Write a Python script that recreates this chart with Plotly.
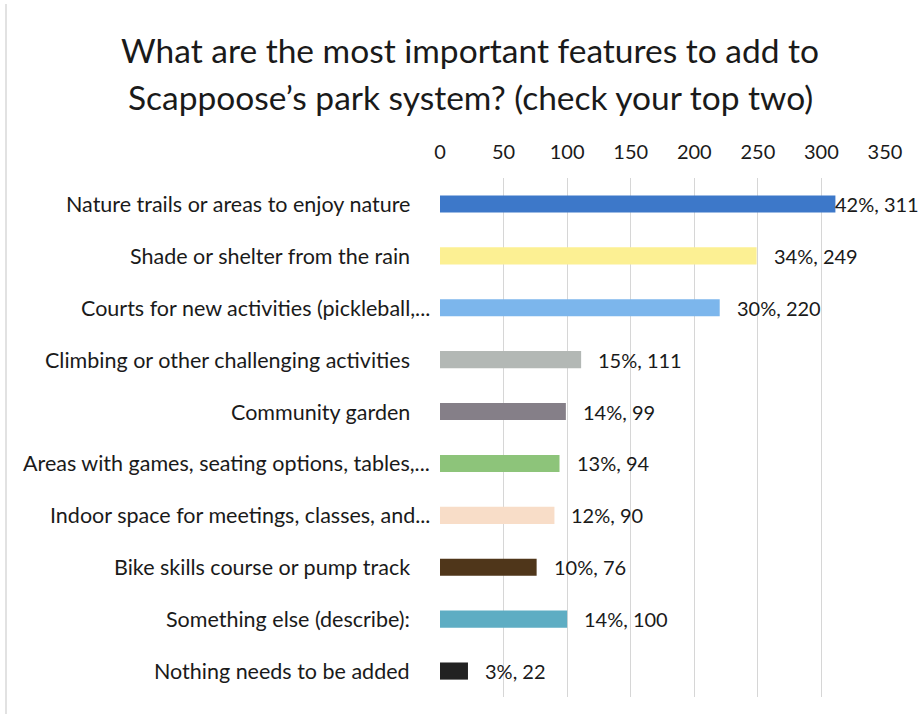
import plotly.graph_objects as go

# Survey responses: features to add to the park system
categories = [
    "Nature trails or areas to enjoy nature",
    "Shade or shelter from the rain",
    "Courts for new activities (pickleball,...",
    "Climbing or other challenging activities",
    "Community garden",
    "Areas with games, seating options, tables,...",
    "Indoor space for meetings, classes, and...",
    "Bike skills course or pump track",
    "Something else (describe):",
    "Nothing needs to be added",
]
counts = [311, 249, 220, 111, 99, 94, 90, 76, 100, 22]
percents = [42, 34, 30, 15, 14, 13, 12, 10, 14, 3]
bar_colors = [
    "#3d78c9", "#fcf093", "#7cb6ec", "#b3b8b5", "#857f88",
    "#8dc47a", "#f8ddc8", "#4f361a", "#5eadc3", "#222222",
]
x_ticks = [0, 50, 100, 150, 200, 250, 300, 350]
title_lines = [
    "What are the most important features to add to",
    "Scappoose\u2019s park system? (check your top two)",
]

FONT = "Lato"
TEXT = "#1a1a1a"

# plot-area geometry in pixels
W, H = 919, 723
L, R, T, B = 440, 34, 178, 26
PW, PH = W - L - R, H - T - B


def px_to_paper(xpix, ypix):
    return (xpix - L) / PW, (H - B - ypix) / PH


fig = go.Figure(
    go.Bar(
        x=counts,
        y=categories,
        orientation="h",
        width=0.33,
        marker=dict(color=bar_colors, line=dict(width=0)),
        hoverinfo="skip",
    )
)

annotations = []
# category labels to the left of the bars
for cat in categories:
    trailing = cat.endswith("...")
    annotations.append(dict(
        x=0, y=cat, xref="x", yref="y", text=cat, showarrow=False,
        xanchor="right", yanchor="middle", xshift=-8 if trailing else -28,
        font=dict(family=FONT, size=21.5, color=TEXT),
    ))
# value labels: "pct%, count" (the longest bar's label hugs its bar end)
for cat, v, p in zip(categories, counts, percents):
    annotations.append(dict(
        x=v, y=cat, xref="x", yref="y", text=f"{p}%, {v}", showarrow=False,
        xanchor="left", yanchor="middle", xshift=-2 if v > 300 else 15,
        font=dict(family=FONT, size=20, color=TEXT),
    ))
# two-line chart title
for line, ypix in zip(title_lines, [50, 97]):
    px, py = px_to_paper(470, ypix)
    annotations.append(dict(
        x=px, y=py, xref="paper", yref="paper",
        text=line, showarrow=False, xanchor="center", yanchor="middle",
        font=dict(family=FONT, size=33.5, color=TEXT),
    ))

bx0, by0 = px_to_paper(6, 714)
bx1, by1 = px_to_paper(6, 4)

fig.update_layout(
    width=W, height=H,
    margin=dict(l=L, r=R, t=T, b=B),
    paper_bgcolor="white", plot_bgcolor="white",
    showlegend=False,
    annotations=annotations,
    xaxis=dict(
        side="top", range=[0, 350], tickvals=x_ticks,
        showgrid=True, gridcolor="#d6d6d6", gridwidth=1,
        zeroline=False, showline=False, ticks="",
        ticklabelstandoff=14,
        tickfont=dict(family=FONT, size=20, color=TEXT),
    ),
    yaxis=dict(
        categoryorder="array", categoryarray=categories[::-1],
        showticklabels=False, showgrid=False, zeroline=False,
        showline=False, ticks="",
    ),
    shapes=[dict(
        type="line", xref="paper", yref="paper",
        x0=bx0, x1=bx1, y0=by0, y1=by1,
        line=dict(color="#e2e2e2", width=2),
    )],
)

fig.write_html("out.html")
